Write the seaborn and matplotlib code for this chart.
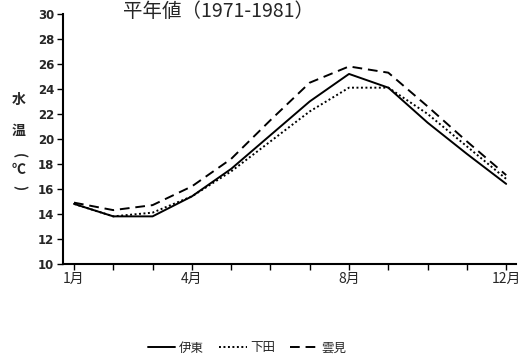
import matplotlib
matplotlib.use('Agg')
import matplotlib.pyplot as plt
import seaborn as sns
import pandas as pd

months = [1, 2, 3, 4, 5, 6, 7, 8, 9, 10, 11, 12]
ito = [14.8, 13.8, 13.8, 15.4, 17.6, 20.3, 23.0, 25.2, 24.1, 21.3, 18.8, 16.4]
shimoda = [14.8, 13.8, 14.1, 15.4, 17.4, 19.8, 22.2, 24.1, 24.1, 22.0, 19.4, 16.8]
kumomi = [14.9, 14.3, 14.7, 16.2, 18.4, 21.5, 24.5, 25.8, 25.3, 22.6, 19.8, 17.1]
stations = ['伊東', '下田', '雲見']
month_ticks = [1, 4, 8, 12]
month_labels = ['1月', '4月', '8月', '12月']
y_ticks = [10, 12, 14, 16, 18, 20, 22, 24, 26, 28, 30]

df = pd.DataFrame({
    'month': months * 3,
    'temp': ito + shimoda + kumomi,
    'station': [s for s in stations for _ in months],
})

sns.set_style('ticks')
plt.rcParams['font.family'] = ['Noto Sans CJK JP', 'DejaVu Sans']

fig = plt.figure(figsize=(5.26, 3.58), dpi=100)
ax = fig.add_axes([0.119, 0.263, 0.862, 0.698])

sns.lineplot(data=df, x='month', y='temp', style='station', style_order=stations,
             dashes={'伊東': '', '下田': (1, 1.3), '雲見': (5, 3)},
             color='black', linewidth=1.4, ax=ax, legend=False)

ax.set_xlim(0.71, 12.25)
ax.set_ylim(10, 30)
ax.set_xticks(months)
ax.set_xticklabels([month_labels[month_ticks.index(m)] if m in month_ticks else '' for m in months],
                   fontsize=10)
ax.set_yticks(y_ticks)
ax.set_yticklabels([str(v) for v in y_ticks], fontsize=8.5, fontweight='bold', family='DejaVu Sans')
ax.tick_params(axis='both', length=4, width=1, color='black', pad=2)
ax.set_xlabel('')
ax.set_ylabel('')
sns.despine(ax=ax)
for side in ['left', 'bottom']:
    ax.spines[side].set_linewidth(1.5)
    ax.spines[side].set_color('black')

# vertical y label: 水温（℃）
ylabel_parts = [('水', 0), ('温', 0), ('(', -90), ('℃', 0), (')', -90)]
ylabel_y = [0.72, 0.635, 0.565, 0.525, 0.475]
for (ch, rot), yy in zip(ylabel_parts, ylabel_y):
    fig.text(0.036, yy, ch, fontsize=10, ha='center', va='center', rotation=rot,
             fontweight='bold')

fig.text(0.415, 0.998, '平年値（1971-1981）', fontsize=14, ha='center', va='top')

handles = [plt.Line2D([], [], color='black', linewidth=1.4),
           plt.Line2D([], [], color='black', linewidth=1.4, dashes=(1, 1.3)),
           plt.Line2D([], [], color='black', linewidth=1.4, dashes=(5, 3))]
fig.legend(handles, stations, loc='center', bbox_to_anchor=(0.47, 0.028), ncol=3,
           frameon=False, fontsize=9, handlelength=2.2, handletextpad=0.3, columnspacing=1.2)

fig.savefig('out.png', dpi=100)
